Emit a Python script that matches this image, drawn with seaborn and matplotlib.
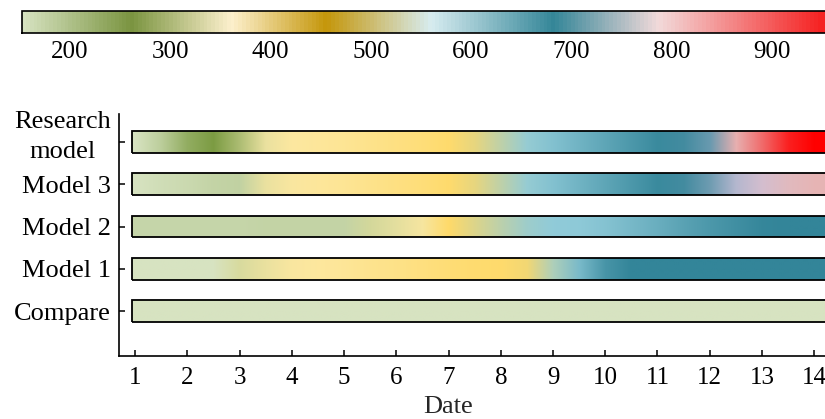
from matplotlib import pyplot as plt
from matplotlib.colors import LinearSegmentedColormap, Normalize
from matplotlib.cm import ScalarMappable
from matplotlib.patches import Rectangle
from matplotlib.transforms import ScaledTranslation
import seaborn as sns
import numpy as np

# 日期（每半天一个读数）
dates = [1.0, 1.5, 2.0, 2.5, 3.0, 3.5, 4.0, 4.5, 5.0, 5.5, 6.0, 6.5, 7.0, 7.5,
         8.0, 8.5, 9.0, 9.5, 10.0, 10.5, 11.0, 11.5, 12.0, 12.5, 13.0, 13.5, 14.0]

models = ['Compare', 'Model 1', 'Model 2', 'Model 3', 'Research\nmodel']

compare = [150, 150, 150, 150, 150, 150, 150, 150, 150, 150, 150, 150, 150, 150,
           150, 150, 150, 150, 150, 150, 150, 150, 150, 150, 150, 150, 150]
model1 = [152, 152, 152, 150, 332, 352, 366, 374, 380, 388, 396, 404, 414, 420,
          425, 445, 525, 590, 660, 690, 690, 690, 690, 690, 690, 690, 690]
model2 = [175, 175, 175, 175, 175, 176, 176, 176, 178, 330, 345, 362, 428, 470,
          508, 545, 560, 563, 575, 595, 615, 635, 655, 672, 685, 690, 690]
model3 = [152, 160, 168, 176, 180, 350, 368, 376, 384, 392, 400, 410, 424, 458,
          505, 552, 580, 605, 630, 655, 680, 698, 725, 765, 800, 835, 850]
research = [152, 185, 240, 270, 305, 352, 370, 376, 384, 392, 400, 410, 424, 458,
            505, 552, 580, 605, 630, 655, 680, 698, 720, 855, 895, 940, 960]

cbTicks = [200, 300, 400, 500, 600, 700, 800, 900]

# 颜色条的颜色节点
cbStops = [152, 260, 360, 455, 560, 683, 788, 950, 1000]
cbColors = ['#d6e2c0', '#7a9440', '#fdf0cd', '#c4960a', '#d7ecf0',
            '#348698', '#f2dada', '#f52323', '#f51e1e']
# 色带的颜色节点
barStops = [150, 270, 330, 370, 430, 560, 690, 780, 850, 960]
barColors = ['#d7e3c1', '#7a9a40', '#d7da9e', '#fde8a0', '#ffd966',
             '#90cbd9', '#338599', '#ccc0d8', '#e6b8b8', '#ff0000']

sns.set_theme(style='ticks')
plt.rcParams['font.family'] = ['Liberation Serif', 'DejaVu Serif']
plt.rcParams['axes.edgecolor'] = 'black'
plt.rcParams['xtick.color'] = 'black'
plt.rcParams['ytick.color'] = 'black'

def makeCmap(name, stops, colors, n=256):
    lo, hi = stops[0], stops[-1]
    return LinearSegmentedColormap.from_list(
        name, [((s - lo) / (hi - lo), c) for s, c in zip(stops, colors)], N=n)

cbCmap = makeCmap('cb', cbStops, cbColors, n=220)
barCmap = makeCmap('bar', barStops, barColors)

fig = plt.figure(figsize=(8.25, 4.19), dpi=100)

# 主图，右侧超出画布
ax = fig.add_axes([119 / 825, 1 - 356 / 419, 726.5 / 825, 242 / 419])
barNorm = Normalize(vmin=barStops[0], vmax=barStops[-1])
step = dates[1] - dates[0]
rows = [compare, model1, model2, model3, research]
for i, vals in enumerate(rows):
    y = i + 1
    rect = Rectangle((0.94, y - 0.26), 14.0, 0.52, facecolor='none',
                     edgecolor='black', lw=1.3, zorder=3)
    ax.add_patch(rect)
    im = ax.imshow(np.array([vals]), cmap=barCmap, norm=barNorm,
                   extent=(dates[0] - step / 2, dates[-1] + step / 2, y - 0.26, y + 0.26),
                   aspect='auto', interpolation='bilinear',
                   interpolation_stage='rgba', zorder=2)
    im.set_clip_path(rect)

ax.set_xlim(0.69, 14.6)
ax.set_ylim(-0.065, 5.663)
ax.set_xticks(range(1, 15))
ax.set_yticks(range(1, len(models) + 1), models)
ax.tick_params(direction='in', length=4, width=1.1)
ax.tick_params(axis='x', labelsize=18, pad=8)
ax.tick_params(axis='y', labelsize=19, pad=6)
# 两行的标签稍微上移
resLabel = ax.get_yticklabels()[-1]
resLabel.set_multialignment('center')
resLabel.set_linespacing(1.45)
resLabel.set_verticalalignment('center')
resLabel.set_transform(resLabel.get_transform() +
                       ScaledTranslation(0, 5 / 100, fig.dpi_scale_trans))
sns.despine(ax=ax)
for s in ['left', 'bottom']:
    ax.spines[s].set_linewidth(1.2)
ax.set_xlabel('Date', fontsize=19, va='center')
ax.xaxis.set_label_coords((448 - 119) / 726.5, -(407 - 356) / 242)

# 顶部颜色条
cax = fig.add_axes([22 / 825, 1 - 33 / 419, 850 / 825, 22 / 419])
cb = fig.colorbar(ScalarMappable(norm=Normalize(cbStops[0], cbStops[-1]), cmap=cbCmap),
                  cax=cax, orientation='horizontal', ticks=cbTicks)
cb.outline.set_linewidth(1.2)
cb.outline.set_edgecolor('black')
cax.tick_params(length=0, labelsize=18, pad=6)

plt.savefig('out.png', dpi=100)
plt.close()
